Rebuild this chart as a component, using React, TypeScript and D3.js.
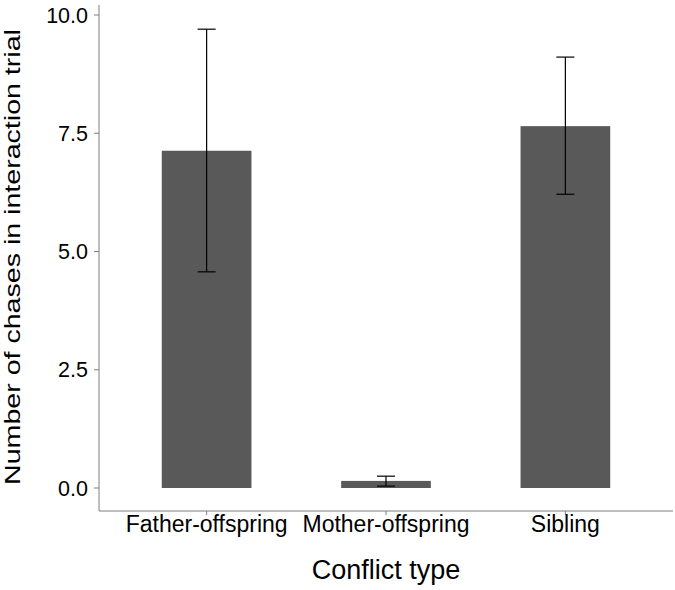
import React from "react";
import * as d3 from "d3";

const categories = ["Father-offspring", "Mother-offspring", "Sibling"];
const means = [7.13, 0.15, 7.65];
const lower = [4.57, 0.04, 6.21];
const upper = [9.7, 0.25, 9.11];
const yTicks = [0, 2.5, 5, 7.5, 10];

export default function App() {
  const W = 675, H = 590;
  const left = 99, right = 673, top = 5, bottom = 511;
  const y = d3.scaleLinear().domain([0, 10]).range([488, 15]);
  const step = (right - left) / (categories.length - 1 + 1.2);
  const x = d3.scalePoint<string>().domain(categories).range([left + 0.6 * step, right - 0.6 * step]);
  const bw = step * 0.5;
  const font = "'Liberation Sans', Arial, sans-serif";
  return (
    <svg width={W} height={H} style={{ position: "absolute", left: 0, top: 0, background: "#fff" }}>
      <rect x={0} y={0} width={W} height={H} fill="#fff" />
      {categories.map((c, i) => (
        <g key={c}>
          <rect x={x(c)! - bw / 2} y={y(means[i])} width={bw} height={y(0) - y(means[i])} fill="#595959" />
          <line x1={x(c)} x2={x(c)} y1={y(upper[i])} y2={y(lower[i])} stroke="#000" strokeWidth={1.2} />
          <line x1={x(c)! - 9} x2={x(c)! + 9} y1={y(upper[i])} y2={y(upper[i])} stroke="#000" strokeWidth={1.2} />
          <line x1={x(c)! - 9} x2={x(c)! + 9} y1={y(lower[i])} y2={y(lower[i])} stroke="#000" strokeWidth={1.2} />
        </g>
      ))}
      <line x1={left} x2={left} y1={top} y2={bottom} stroke="#7f7f7f" strokeWidth={1} />
      <line x1={left} x2={right} y1={bottom} y2={bottom} stroke="#7f7f7f" strokeWidth={1} />
      {yTicks.map((t) => (
        <g key={t}>
          <line x1={left - 5} x2={left} y1={y(t)} y2={y(t)} stroke="#7f7f7f" />
          <text x={left - 11} y={y(t)} dy="0.36em" textAnchor="end" fontFamily={font} fontSize={21.5} fill="#000">
            {t.toFixed(1)}
          </text>
        </g>
      ))}
      {categories.map((c) => (
        <g key={c}>
          <line x1={x(c)} x2={x(c)} y1={bottom} y2={bottom + 4} stroke="#7f7f7f" />
          <text x={x(c)} y={532} textAnchor="middle" fontFamily={font} fontSize={23} fill="#000">
            {c}
          </text>
        </g>
      ))}
      <text x={(left + right) / 2} y={579} textAnchor="middle" fontFamily={font} fontSize={27} fill="#000">
        Conflict type
      </text>
      <text
        transform={`translate(20,257) rotate(-90) scale(1,0.8)`}
        textAnchor="middle"
        fontFamily={font}
        fontSize={28.6}
        fill="#000"
      >
        Number of chases in interaction trial
      </text>
    </svg>
  );
}
